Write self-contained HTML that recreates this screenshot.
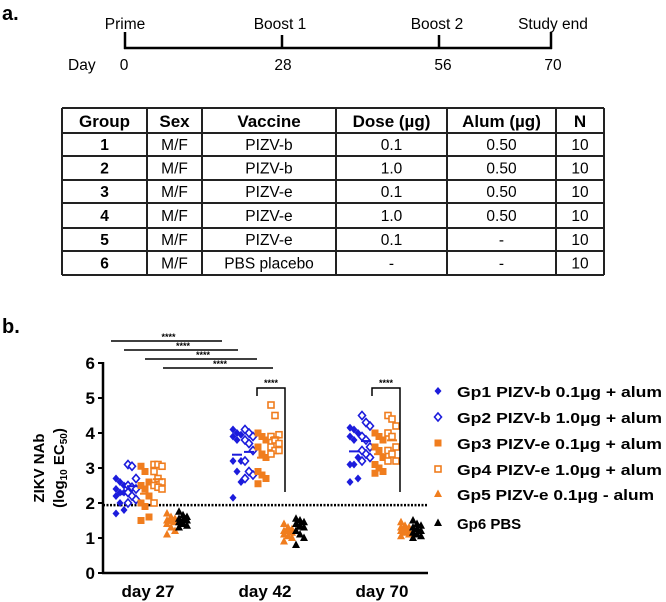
<!DOCTYPE html>
<html><head><meta charset="utf-8"><style>
html,body{margin:0;padding:0;background:#fff;}
svg{display:block;font-family:"Liberation Sans",Arial,sans-serif;}
</style></head><body>
<svg id="fig" width="666" height="602" viewBox="0 0 666 602">
<text x="2" y="20" font-size="20" font-weight="bold">a.</text>
<g stroke="#000" stroke-width="2.5" fill="none">
<line x1="124" y1="48" x2="552" y2="48"/>
<line x1="125" y1="32" x2="125" y2="49"/><line x1="282" y1="35" x2="282" y2="49"/>
<line x1="439" y1="35" x2="439" y2="49"/><line x1="551" y1="32" x2="551" y2="49"/>
</g>
<g font-size="15.5">
<text x="125" y="29" text-anchor="middle">Prime</text>
<text x="280" y="29" text-anchor="middle">Boost 1</text>
<text x="437" y="29" text-anchor="middle">Boost 2</text>
<text x="553" y="29" text-anchor="middle">Study end</text>
<text x="68" y="70">Day</text>
<text x="124" y="70" text-anchor="middle">0</text>
<text x="283" y="70" text-anchor="middle">28</text>
<text x="443" y="70" text-anchor="middle">56</text>
<text x="553" y="70" text-anchor="middle">70</text>
</g>
<g id="table"></g>
<text x="2" y="333" font-size="20" font-weight="bold">b.</text>
<g id="chart"></g>
</svg>
<script>
const NS="http://www.w3.org/2000/svg";
function mk(tag,attrs,parent,txt){const e=document.createElementNS(NS,tag);for(const k in attrs)e.setAttribute(k,attrs[k]);if(txt!==undefined)e.textContent=txt;parent.appendChild(e);return e;}
// table
const tbl=document.getElementById('table');
const colX=[62,147,202,336,447,556,604];
const rowY=[108,133,156,180,203,228,251,275];
const rows=[["Group","Sex","Vaccine","Dose (µg)","Alum (µg)","N"],
["1","M/F","PIZV-b","0.1","0.50","10"],["2","M/F","PIZV-b","1.0","0.50","10"],
["3","M/F","PIZV-e","0.1","0.50","10"],["4","M/F","PIZV-e","1.0","0.50","10"],
["5","M/F","PIZV-e","0.1","-","10"],["6","M/F","PBS placebo","-","-","10"]];
for(const x of colX){mk('line',{x1:x,y1:rowY[0],x2:x,y2:rowY[7],stroke:'#222','stroke-width':2},tbl);}
for(const y of rowY){mk('line',{x1:colX[0],y1:y,x2:colX[6],y2:y,stroke:'#222','stroke-width':2},tbl);}
rows.forEach((r,i)=>{r.forEach((c,j)=>{const t=mk('text',{x:(colX[j]+colX[j+1])/2,y:(rowY[i]+rowY[i+1])/2+(i===0?6.5:5.5),'text-anchor':'middle','font-size':(i===0?17:15.5),'font-weight':(i===0||j===0)?'bold':'normal'},tbl,c);

});});

// chart data
const categories=["day 27","day 42","day 70"];
const groups=["Gp1 PIZV-b 0.1µg + alum","Gp2 PIZV-b 1.0µg + alum","Gp3 PIZV-e 0.1µg + alum","Gp4 PIZV-e 1.0µg + alum","Gp5 PIZV-e 0.1µg - alum","Gp6 PBS"];
const yTicks=[0,1,2,3,4,5,6];
const gp1=[[2.7,2.6,2.5,2.4,2.3,2.3,2.2,2.0,1.8,1.7],[4.1,4.0,3.95,3.9,3.8,3.2,3.2,2.9,2.6,2.15],[4.15,4.1,4.0,3.9,3.8,3.3,3.1,3.1,2.7,2.6]];
const gp2=[[3.1,3.05,2.7,2.5,2.45,2.4,2.3,2.2,2.1,2.0],[4.1,4.0,3.9,3.8,3.7,3.5,3.2,2.9,2.8,2.7],[4.5,4.3,4.2,3.9,3.8,3.6,3.5,3.4,3.3,3.2]];
const gp3=[[3.05,2.9,2.6,2.5,2.4,2.2,2.0,1.9,1.6,1.5],[4.0,3.9,3.8,3.6,3.4,3.3,2.9,2.8,2.7,2.55],[4.0,3.9,3.8,3.6,3.5,3.3,3.1,3.0,2.9,2.85]];
const gp4=[[3.1,3.1,3.05,2.9,2.7,2.6,2.5,2.45,2.4,2.0],[4.8,4.5,3.95,3.9,3.8,3.7,3.6,3.5,3.5,3.4],[4.5,4.4,4.2,4.0,3.9,3.6,3.5,3.4,3.2,3.2]];
const gp5=[[1.7,1.6,1.55,1.5,1.5,1.45,1.4,1.3,1.2,1.1],[1.4,1.3,1.25,1.2,1.2,1.15,1.1,1.05,1.0,0.9],[1.45,1.35,1.3,1.3,1.25,1.2,1.2,1.15,1.1,1.05]];
const gp6=[[1.75,1.65,1.6,1.55,1.5,1.5,1.45,1.4,1.35,1.3],[1.55,1.5,1.45,1.4,1.35,1.3,1.2,1.1,1.0,0.8],[1.5,1.4,1.35,1.3,1.25,1.2,1.15,1.1,1.05,1.0]];
const series=[gp1,gp2,gp3,gp4,gp5,gp6];
const limitOfDetection=1.94;

const ch=document.getElementById('chart');
const X0=103,XEND=428,Y0=573,PX=35;
const yS=v=>Y0-v*PX;
const catX=i=>150+i*117;
const grpOff=[-30,-18,-5,8,21,33];
const colors=['#1c1cdc','#1c1cdc','#f07d1e','#f07d1e','#f07d1e','#000'];

const ax=mk('g',{},ch);
mk('line',{x1:X0,y1:yS(6)-1,x2:X0,y2:Y0+1,stroke:'#000','stroke-width':2.5},ax);
mk('line',{x1:X0-1,y1:Y0,x2:XEND,y2:Y0,stroke:'#000','stroke-width':2.5},ax);
yTicks.forEach(t=>{mk('line',{x1:X0-5,y1:yS(t),x2:X0,y2:yS(t),stroke:'#000','stroke-width':2},ax);
const tl=mk('text',{x:X0-8,y:yS(t)+6,'text-anchor':'end','font-size':17,'font-weight':'bold'},ax,t);

});
categories.forEach((c,i)=>{const tl=mk('text',{x:catX(i)-2,y:Y0+24,'text-anchor':'middle','font-size':17,'font-weight':'bold'},ax,c);

});
const yt=mk('text',{transform:'translate(48,'+yS(3)+') rotate(-90)','text-anchor':'middle','font-size':15,'font-weight':'bold'},ax);


mk('tspan',{x:0,dy:-4},yt,'ZIKV NAb');
mk('tspan',{x:0,dy:20},yt,'(log');mk('tspan',{'font-size':10,dy:3},yt,'10');mk('tspan',{dy:-3},yt,' EC');mk('tspan',{'font-size':10,dy:3},yt,'50');mk('tspan',{dy:-3},yt,')');
const lod=mk('line',{x1:X0,y1:yS(limitOfDetection),x2:XEND,y2:yS(limitOfDetection),stroke:'#000','stroke-width':2.5,'stroke-dasharray':'2 1.5'},ch);



function marker(g,kind,x,y,col){
 if(kind===0) return mk('path',{d:`M${x} ${y-4}L${x+3.5} ${y}L${x} ${y+4}L${x-3.5} ${y}Z`,fill:col},g);
 if(kind===1) return mk('path',{d:`M${x} ${y-4}L${x+3.5} ${y}L${x} ${y+4}L${x-3.5} ${y}Z`,fill:'#fff',stroke:col,'stroke-width':1.6},g);
 if(kind===2) return mk('rect',{x:x-3.5,y:y-3.5,width:7,height:7,fill:col},g);
 if(kind===3) return mk('rect',{x:x-3,y:y-3,width:6,height:6,fill:'#fff',stroke:col,'stroke-width':1.6},g);
 return mk('path',{d:`M${x} ${y-4.5}L${x+4} ${y+3}L${x-4} ${y+3}Z`,fill:col},g);
}
series.forEach((s,gi)=>{
 s.forEach((vals,ci)=>{
  const g=mk('g',{},ch);
  
  
  const cx=catX(ci)+grpOff[gi];
  vals.forEach((v,i)=>{const jit=((i%3)-1)*4;const m=marker(g,gi,cx+jit,yS(v),colors[gi]);
   
   });
  const mean=vals.reduce((a,b)=>a+b,0)/vals.length;
  const ml=mk('line',{x1:cx-5,y1:yS(mean),x2:cx+5,y2:yS(mean),stroke:colors[gi],'stroke-width':2},g);
  
  
 });
});
const sig=mk('g',{},ch);
[[111,222,341],[124,238,350],[145,257,359],[163,273,368]].forEach(a=>{
 mk('line',{x1:a[0],y1:a[2],x2:a[1],y2:a[2],stroke:'#000','stroke-width':1.5},sig);
 mk('text',{x:(a[0]+a[1])/2+2,y:a[2]-1,'text-anchor':'middle','font-size':9,'font-weight':'bold'},sig,'****');
});
[[257,285],[372,400]].forEach(b=>{
 mk('path',{d:`M${b[0]} 396V388H${b[1]}V492`,fill:'none',stroke:'#000','stroke-width':1.5},sig);
 mk('text',{x:(b[0]+b[1])/2,y:386,'text-anchor':'middle','font-size':9,'font-weight':'bold'},sig,'****');
});
const lg=mk('g',{},ch);
const lgY=[391,417,443,469,494,523];
groups.forEach((name,i)=>{
 const e=mk('g',{},lg);
 
 
 marker(e,i,438,lgY[i],colors[i]);
 const t=mk('text',{x:457,y:lgY[i]+6,'font-size':15,'font-weight':'bold'},e,name);
 if(i<5){t.setAttribute('textLength',i<4?205:197);t.setAttribute('lengthAdjust','spacingAndGlyphs');}
});
</script>
</body></html>
